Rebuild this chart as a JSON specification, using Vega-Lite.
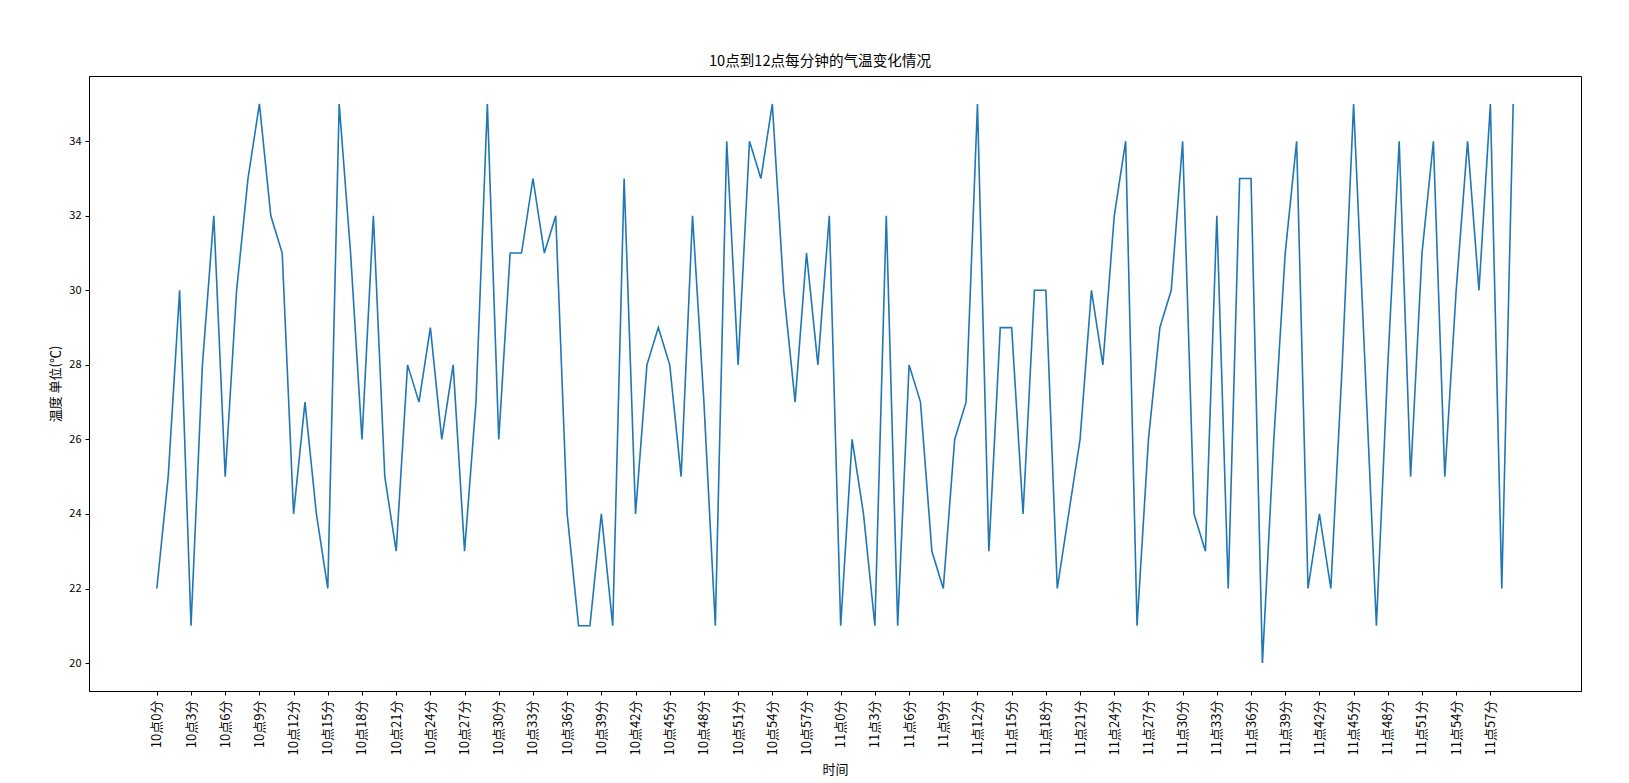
{
  "$schema": "https://vega.github.io/schema/vega-lite/v6.json",
  "width": 1492,
  "height": 615,
  "autosize": {"type": "none"},
  "padding": {"left": 89, "top": 76, "right": 48, "bottom": 92},
  "background": "white",
  "title": {
    "text": "10点到12点每分钟的气温变化情况",
    "font": "Noto Sans CJK SC",
    "fontSize": 14.6,
    "fontWeight": "normal",
    "color": "#000000",
    "anchor": "middle",
    "offset": 7,
    "dx": -15
  },
  "config": {
    "view": {"stroke": "#000000", "strokeWidth": 1},
    "axis": {
      "grid": false,
      "domainColor": "#000000",
      "tickColor": "#000000",
      "labelColor": "#000000",
      "titleColor": "#000000",
      "labelFont": "Noto Sans CJK SC",
      "titleFont": "Noto Sans CJK SC",
      "labelFontSize": 11,
      "titleFontSize": 13,
      "titleFontWeight": "normal",
      "tickSize": 4
    }
  },
  "data": {
    "values": [
      {"m":0,"temp":22},{"m":1,"temp":25},{"m":2,"temp":30},{"m":3,"temp":21},{"m":4,"temp":28},{"m":5,"temp":32},{"m":6,"temp":25},{"m":7,"temp":30},{"m":8,"temp":33},{"m":9,"temp":35},
      {"m":10,"temp":32},{"m":11,"temp":31},{"m":12,"temp":24},{"m":13,"temp":27},{"m":14,"temp":24},{"m":15,"temp":22},{"m":16,"temp":35},{"m":17,"temp":31},{"m":18,"temp":26},{"m":19,"temp":32},
      {"m":20,"temp":25},{"m":21,"temp":23},{"m":22,"temp":28},{"m":23,"temp":27},{"m":24,"temp":29},{"m":25,"temp":26},{"m":26,"temp":28},{"m":27,"temp":23},{"m":28,"temp":27},{"m":29,"temp":35},
      {"m":30,"temp":26},{"m":31,"temp":31},{"m":32,"temp":31},{"m":33,"temp":33},{"m":34,"temp":31},{"m":35,"temp":32},{"m":36,"temp":24},{"m":37,"temp":21},{"m":38,"temp":21},{"m":39,"temp":24},
      {"m":40,"temp":21},{"m":41,"temp":33},{"m":42,"temp":24},{"m":43,"temp":28},{"m":44,"temp":29},{"m":45,"temp":28},{"m":46,"temp":25},{"m":47,"temp":32},{"m":48,"temp":27},{"m":49,"temp":21},
      {"m":50,"temp":34},{"m":51,"temp":28},{"m":52,"temp":34},{"m":53,"temp":33},{"m":54,"temp":35},{"m":55,"temp":30},{"m":56,"temp":27},{"m":57,"temp":31},{"m":58,"temp":28},{"m":59,"temp":32},
      {"m":60,"temp":21},{"m":61,"temp":26},{"m":62,"temp":24},{"m":63,"temp":21},{"m":64,"temp":32},{"m":65,"temp":21},{"m":66,"temp":28},{"m":67,"temp":27},{"m":68,"temp":23},{"m":69,"temp":22},
      {"m":70,"temp":26},{"m":71,"temp":27},{"m":72,"temp":35},{"m":73,"temp":23},{"m":74,"temp":29},{"m":75,"temp":29},{"m":76,"temp":24},{"m":77,"temp":30},{"m":78,"temp":30},{"m":79,"temp":22},
      {"m":80,"temp":24},{"m":81,"temp":26},{"m":82,"temp":30},{"m":83,"temp":28},{"m":84,"temp":32},{"m":85,"temp":34},{"m":86,"temp":21},{"m":87,"temp":26},{"m":88,"temp":29},{"m":89,"temp":30},
      {"m":90,"temp":34},{"m":91,"temp":24},{"m":92,"temp":23},{"m":93,"temp":32},{"m":94,"temp":22},{"m":95,"temp":33},{"m":96,"temp":33},{"m":97,"temp":20},{"m":98,"temp":26},{"m":99,"temp":31},
      {"m":100,"temp":34},{"m":101,"temp":22},{"m":102,"temp":24},{"m":103,"temp":22},{"m":104,"temp":28},{"m":105,"temp":35},{"m":106,"temp":28},{"m":107,"temp":21},{"m":108,"temp":28},{"m":109,"temp":34},
      {"m":110,"temp":25},{"m":111,"temp":31},{"m":112,"temp":34},{"m":113,"temp":25},{"m":114,"temp":30},{"m":115,"temp":34},{"m":116,"temp":30},{"m":117,"temp":35},{"m":118,"temp":22},{"m":119,"temp":35}
    ]
  },
  "mark": {"type": "line", "color": "#1f77b4", "strokeWidth": 1.6},
  "encoding": {
    "x": {
      "field": "m",
      "type": "quantitative",
      "scale": {"domain": [-5.95, 124.95], "nice": false, "zero": false},
      "axis": {
        "title": "时间",
        "titlePadding": 9,
        "labelFontSize": 13,
        "values": [0,3,6,9,12,15,18,21,24,27,30,33,36,39,42,45,48,51,54,57,60,63,66,69,72,75,78,81,84,87,90,93,96,99,102,105,108,111,114,117],
        "labelExpr": "(datum.value < 60 ? '10点' + datum.value : '11点' + (datum.value - 60)) + '分'",
        "labelAngle": 270,
        "labelAlign": "right",
        "labelBaseline": "middle",
        "labelPadding": 5,
        "labelOverlap": false
      }
    },
    "y": {
      "field": "temp",
      "type": "quantitative",
      "scale": {"domain": [19.25, 35.75], "nice": false, "zero": false},
      "axis": {
        "title": "温度  单位(℃)",
        "titlePadding": 6,
        "values": [20,22,24,26,28,30,32,34],
        "labelPadding": 4
      }
    }
  }
}
